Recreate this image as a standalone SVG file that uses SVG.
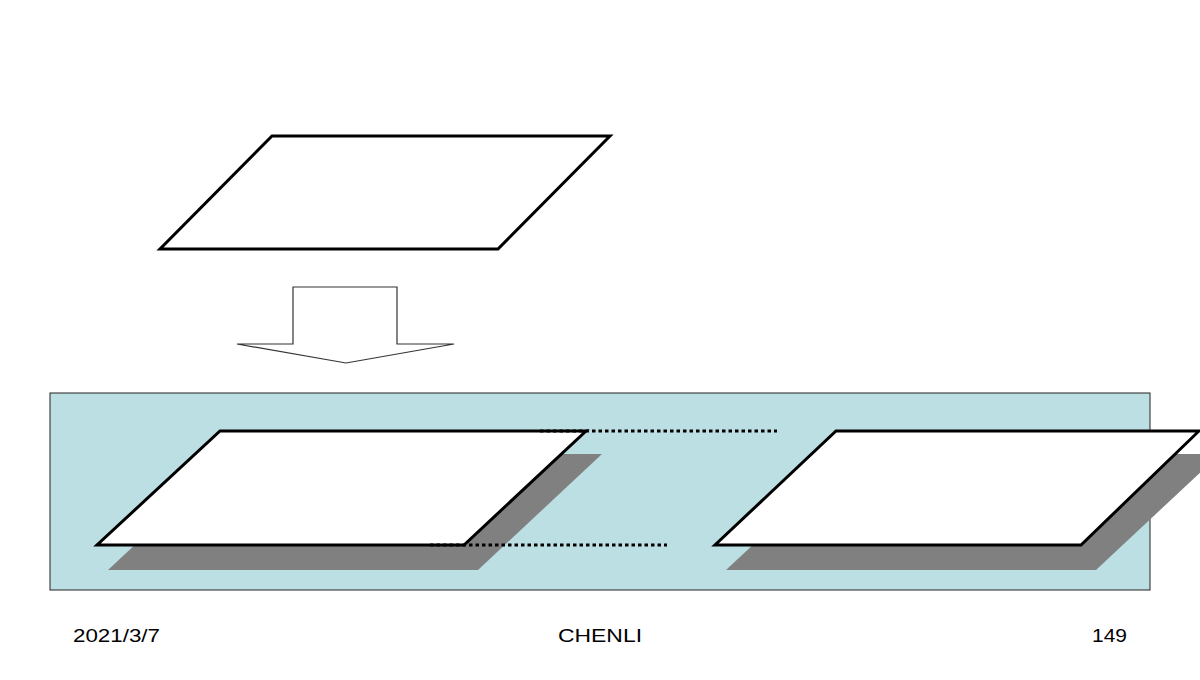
<svg xmlns="http://www.w3.org/2000/svg" width="1200" height="680" viewBox="0 0 1200 680">
  <style>
    .plane { fill: #ffffff; stroke: #000000; stroke-width: 3; stroke-linejoin: miter; }
    .shadow { fill: #808080; stroke: none; }
    .dots { stroke: #000000; stroke-width: 3; stroke-dasharray: 3.5 3; fill: none; }
    .foot { font-family: "Liberation Sans", Arial, sans-serif; font-size: 18px; fill: #000000; }
  </style>
  <rect x="0" y="0" width="1200" height="680" fill="#ffffff"/>
  <g id="top-plane">
    <polygon class="plane" points="272,136 610,136 498,249 160,249"/>
  </g>
  <g id="down-arrow">
    <polygon points="293,287 397,287 397,344 454,344 346,363 237,344 293,344" fill="#ffffff" stroke="#333333" stroke-width="1.2"/>
  </g>
  <g id="panel">
    <rect x="50" y="393" width="1100" height="197" fill="#BBDFE2" stroke="#222222" stroke-width="1"/>
  </g>
  <g id="plane-left">
    <polygon class="shadow" points="232,454 602,454 478,570 108,570"/>
    <polygon class="plane" points="220,431 586,431 464,545 97,545"/>
  </g>
  <g id="plane-right">
    <polygon class="shadow" points="850,454 1220,454 1096,570 726,570"/>
    <polygon class="plane" points="836,431 1199,431 1081,545 715,545"/>
  </g>
  <g id="connectors">
    <line class="dots" x1="540" y1="431" x2="777" y2="431"/>
    <line class="dots" x1="430" y1="545" x2="667" y2="545"/>
  </g>
  <g id="footer">
    <text class="foot" x="73" y="642" textLength="87" lengthAdjust="spacingAndGlyphs">2021/3/7</text>
    <text class="foot" x="558" y="642" textLength="84" lengthAdjust="spacingAndGlyphs">CHENLI</text>
    <text class="foot" x="1092" y="642" textLength="35" lengthAdjust="spacingAndGlyphs">149</text>
  </g>
</svg>
